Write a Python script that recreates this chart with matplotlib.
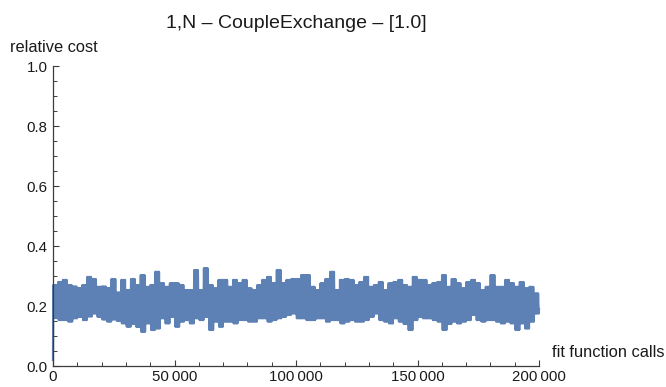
import numpy as np
import matplotlib
matplotlib.use("Agg")
import matplotlib.pyplot as plt
from matplotlib.ticker import MultipleLocator

# ---- data ----
title = "1,N \u2013 CoupleExchange \u2013 [1.0]"
x_label = "fit function calls"
y_label = "relative cost"

# segment width in fit function calls; each segment spans 2000 calls
segment_calls = 2000
start_value = 0.02
end_value = 0.19

upper_env = [
    0.27, 0.28, 0.287, 0.27, 0.265, 0.26, 0.27, 0.297, 0.29, 0.264,
    0.265, 0.26, 0.29, 0.245, 0.287, 0.253, 0.29, 0.27, 0.303, 0.264,
    0.27, 0.314, 0.276, 0.264, 0.276,
    0.276, 0.27, 0.253, 0.253, 0.32, 0.253, 0.326, 0.27, 0.259, 0.287,
    0.287, 0.264, 0.287, 0.276, 0.287, 0.259, 0.253, 0.27, 0.287, 0.297,
    0.276, 0.32, 0.276, 0.287, 0.29,
    0.29, 0.303, 0.303, 0.264, 0.253, 0.276, 0.29, 0.314, 0.253, 0.287,
    0.29, 0.287, 0.27, 0.28, 0.297, 0.264, 0.27, 0.28, 0.253, 0.276,
    0.28, 0.287, 0.27, 0.264, 0.297,
    0.287, 0.287, 0.27, 0.276, 0.28, 0.303, 0.264, 0.29, 0.276, 0.259,
    0.28, 0.287, 0.276, 0.253, 0.264, 0.303, 0.264, 0.264, 0.287, 0.276,
    0.264, 0.28, 0.259, 0.264, 0.242,
]
lower_env = [
    0.16, 0.153, 0.153, 0.148, 0.159, 0.164, 0.153, 0.165, 0.175, 0.164,
    0.155, 0.148, 0.155, 0.15, 0.142, 0.131, 0.14, 0.13, 0.114, 0.142,
    0.12, 0.125, 0.159, 0.142, 0.164,
    0.131, 0.148, 0.153, 0.142, 0.159, 0.153, 0.164, 0.12, 0.148, 0.131,
    0.148, 0.148, 0.142, 0.153, 0.153, 0.148, 0.148, 0.159, 0.159, 0.148,
    0.153, 0.159, 0.164, 0.17, 0.175,
    0.159, 0.159, 0.153, 0.153, 0.159, 0.159, 0.148, 0.153, 0.153, 0.142,
    0.148, 0.153, 0.148, 0.148, 0.153, 0.164, 0.175, 0.153, 0.148, 0.142,
    0.159, 0.148, 0.14, 0.12, 0.153,
    0.164, 0.159, 0.159, 0.153, 0.148, 0.12, 0.14, 0.148, 0.142, 0.148,
    0.153, 0.17, 0.153, 0.148, 0.153, 0.153, 0.148, 0.142, 0.148, 0.142,
    0.12, 0.142, 0.125, 0.148, 0.175,
]

x_ticks = [0, 50000, 100000, 150000, 200000]
x_tick_labels = ["0", "50\u2009000", "100\u2009000", "150\u2009000", "200\u2009000"]
y_ticks = [0.0, 0.2, 0.4, 0.6, 0.8, 1.0]
y_tick_labels = ["0.0", "0.2", "0.4", "0.6", "0.8", "1.0"]

# ---- build the dense oscillating series from the envelopes ----
per_segment = 8
xs = [0.0]
ys = [start_value]
for i, (u, l) in enumerate(zip(upper_env, lower_env)):
    x0 = i * segment_calls
    for k in range(per_segment):
        xs.append(x0 + (k + 0.5) * segment_calls / per_segment)
        ys.append(u if k % 2 == 0 else l)
xs.append(len(upper_env) * segment_calls)
ys.append(end_value)

# ---- figure ----
plt.rcParams['font.family'] = ['Liberation Sans', 'DejaVu Sans']
W, H = 666, 387
fig = plt.figure(figsize=(W / 100, H / 100), dpi=100)
ax = fig.add_axes([53 / W, 1 - 366 / H, (539 - 53) / W, (366 - 66) / H])

line_color = '#5E81B5'
ax.plot(xs, ys, color=line_color, lw=1.6, clip_on=False, solid_joinstyle='round')

ax.set_xlim(0, 200000)
ax.set_ylim(0, 1.0)
for s in ['top', 'right']:
    ax.spines[s].set_visible(False)
spine_col = '#3c3c3c'
for s in ['left', 'bottom']:
    ax.spines[s].set_color(spine_col)
    ax.spines[s].set_linewidth(0.9)

ax.set_xticks(x_ticks)
ax.set_xticklabels(x_tick_labels)
ax.set_yticks(y_ticks)
ax.set_yticklabels(y_tick_labels)
ax.xaxis.set_minor_locator(MultipleLocator(10000))
ax.yaxis.set_minor_locator(MultipleLocator(0.05))
ax.tick_params(which='major', direction='in', length=4.5, width=0.8,
               color=spine_col, labelsize=10.8, labelcolor='#1a1a1a', pad=3)
ax.tick_params(which='minor', direction='in', length=2.8, width=0.7, color=spine_col)
ax.tick_params(axis='y', which='major', pad=4)

fig.text(296 / W, 1 - 24 / H, title, ha='center', va='center', fontsize=14, color='#1a1a1a')
fig.text(10 / W, 1 - 47 / H, y_label, ha='left', va='center', fontsize=11.8, color='#1a1a1a')
fig.text(552 / W, 1 - 357 / H, x_label, ha='left', va='baseline', fontsize=11.8, color='#1a1a1a')

fig.savefig('out.png', dpi=100)
